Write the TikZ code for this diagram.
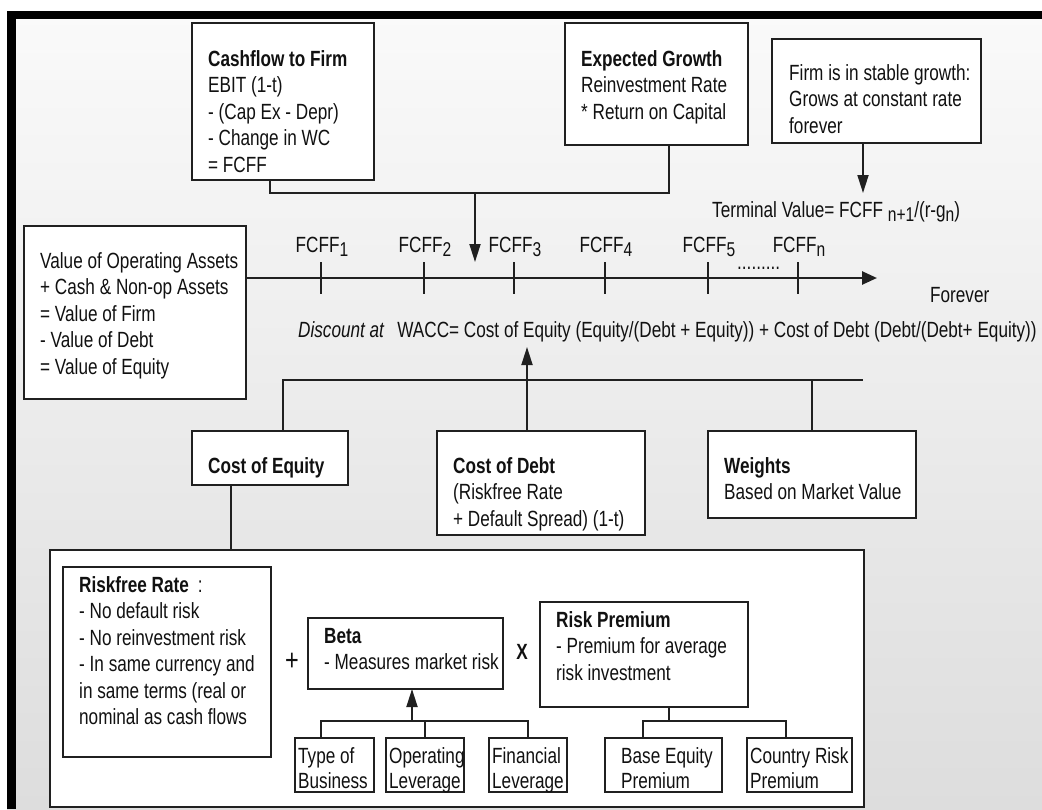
\documentclass[tikz,border=0pt]{standalone}
\usepackage{fontspec}
\setmainfont{Liberation Sans}[FakeStretch=0.78]
\usetikzlibrary{arrows.meta}
\definecolor{ink}{HTML}{111111}
\definecolor{edge}{HTML}{202020}
\definecolor{bgtop}{HTML}{FAFAFA}
\definecolor{bgbot}{HTML}{DDDDDD}
\newcommand\mylines[1]{\begin{tabular}[t]{@{}l@{}}#1\end{tabular}}
\newcommand\mysub[1]{\raisebox{-4pt}{\fontsize{20}{20}\selectfont #1}}
\begin{document}
\begin{tikzpicture}[x=1pt,y=-1pt,
  font=\fontsize{22}{26.5}\selectfont,
  box/.style={draw=edge, line width=1.8pt, fill=white, inner sep=0pt, outer sep=0pt},
  txt/.style={inner sep=0pt, anchor=base west, text=ink},
  smalltxt/.style={txt, font=\fontsize{22}{25}\selectfont},
  lbl/.style={inner sep=0pt, anchor=base, text=ink},
  ln/.style={draw=edge, line width=1.8pt},
  arr/.style={ln, -{Triangle[length=18pt,width=11pt]}},
  tl/.style={draw=edge, line width=2.6pt, -{Triangle[length=15pt,width=13pt]}},
  tickmark/.style={draw=edge, line width=1.8pt}]
\useasboundingbox (0,0) rectangle (1042,809);
% background and frame
\fill[white] (0,0) rectangle (1042,809);
\shade[top color=bgtop, bottom color=bgbot] (7,11) rectangle (1042,809);
\fill[black] (7,11) rectangle (1042,19);
\fill[black] (7,11) rectangle (16,809);

% top boxes
\node[box, minimum width=182pt, minimum height=157pt] (cf) at (283,101.5) {};
\node[txt] (cft) at (208,66) {\mylines{\textbf{Cashflow to Firm}\\EBIT (1-t)\\- (Cap Ex - Depr)\\- Change in WC\\= FCFF}};
\node[box, minimum width=183pt, minimum height=122pt] (eg) at (656.5,84) {};
\node[txt] (egt) at (581,66) {\mylines{\textbf{Expected Growth}\\Reinvestment Rate\\{}* Return on Capital}};
\node[box, minimum width=209pt, minimum height=104pt] (firm) at (876.5,91) {};
\node[txt] (firmt) at (789,80) {\mylines{Firm is in stable growth:\\Grows at constant rate\\forever}};
\node[txt] (tv) at (712,217) {Terminal Value= FCFF \mysub{n+1}/(r-g\mysub{n})};

% connectors at top
\coordinate (cfj) at (270,193);
\coordinate (egj) at (669,193);
\draw[ln] (cf.south -| cfj) -- (cfj) -- (egj) -- (eg.south -| egj);
\coordinate (cfa) at (475,193);
\coordinate (cftip) at (475,262);
\draw[arr] (cfa) -- (cftip);
\coordinate (tvtip) at (863,193);
\draw[arr] (firm.south -| tvtip) -- (tvtip);

% value box and timeline
\node[box, minimum width=222pt, minimum height=173pt] (voa) at (135,312.5) {};
\node[txt] (voat) at (40,268) {\mylines{Value of Operating Assets\\+ Cash \& Non-op Assets\\= Value of Firm\\- Value of Debt\\= Value of Equity}};
\coordinate (tlend) at (877,278);
\draw[tl] (voa.east |- tlend) -- (tlend);
\foreach \x/\n in {321/1, 424/2, 514/3, 605/4, 708/5, 798/n} {
  \coordinate (tk\n) at (\x,278);
  \draw[tickmark] (\x,262) -- (\x,294);
  \node[lbl] (f\n) at (\x+1,252) {FCFF\mysub{\n}};
}
\node[txt] (dots) at (737,269) {.........};
\node[txt] (fv) at (930,302) {Forever};
\node[txt] (disc) at (298,337) {\textit{Discount at}\hspace{8pt} WACC= Cost of Equity (Equity/(Debt + Equity)) + Cost of Debt (Debt/(Debt+ Equity))};

% second row
\node[box, minimum width=156pt, minimum height=54pt] (coe) at (270,458) {};
\node[txt] (coet) at (208,473) {\textbf{Cost of Equity}};
\node[box, minimum width=208pt, minimum height=104pt] (cod) at (541,483) {};
\node[txt] (codt) at (453,473) {\mylines{\textbf{Cost of Debt}\\(Riskfree Rate\\+ Default Spread) (1-t)}};
\node[box, minimum width=208pt, minimum height=87pt] (wts) at (812,474.5) {};
\node[txt] (wtst) at (724,473) {\mylines{\textbf{Weights}\\Based on Market Value}};
\coordinate (busL) at (283,380);
\coordinate (busR) at (863,380);
\draw[ln] (coe.north -| busL) -- (busL) -- (busR);
\draw[ln] (wts.north) -- (wts.north |- busR);
\coordinate (wtip) at (527,347);
\draw[arr] (cod.north -| wtip) -- (wtip);

% big box
\node[box, minimum width=814pt, minimum height=257pt] (big) at (457,678.5) {};
\coordinate (coex) at (231,500);
\draw[ln] (coe.south -| coex) -- (big.north -| coex);

\node[box, minimum width=208pt, minimum height=190pt] (rf) at (167,662) {};
\node[txt] (rft) at (79,592) {\mylines{\textbf{Riskfree Rate}\hspace{9pt}:\\- No default risk\\- No reinvestment risk\\- In same currency and\\in same terms (real or\\nominal as cash flows}};
\node[inner sep=0pt, text=ink, font=\fontsize{30}{30}\selectfont] (plus) at (292,662) {+};
\node[box, minimum width=195pt, minimum height=71pt] (beta) at (405.5,653.5) {};
\node[txt] (betat) at (324,643) {\mylines{\textbf{Beta}\\- Measures market risk}};
\node[inner sep=0pt, text=ink] (times) at (522,652) {\textbf{X}};
\node[box, minimum width=208pt, minimum height=105pt] (rp) at (644,654.5) {};
\node[txt] (rpt) at (556,627) {\mylines{\textbf{Risk Premium}\\- Premium for average\\risk investment}};

% small boxes
\node[box, minimum width=79pt, minimum height=54pt] (tob) at (334.5,765) {};
\node[smalltxt] (tobt) at (298,763) {\mylines{Type of\\Business}};
\node[box, minimum width=78pt, minimum height=54pt] (opl) at (425,765) {};
\node[smalltxt] (oplt) at (389,763) {\mylines{Operating\\Leverage}};
\node[box, minimum width=78pt, minimum height=54pt] (finl) at (528,765) {};
\node[smalltxt] (finlt) at (492,763) {\mylines{Financial\\Leverage}};
\node[box, minimum width=117pt, minimum height=54pt] (bep) at (663.5,765) {};
\node[smalltxt] (bept) at (621,763) {\mylines{Base Equity\\Premium}};
\node[box, minimum width=105pt, minimum height=54pt] (crp) at (799.5,765) {};
\node[smalltxt] (crpt) at (750,763) {\mylines{Country Risk\\Premium}};

% beta connectors
\coordinate (bj) at (412,721);
\coordinate (tobx) at (321,721);
\coordinate (finx) at (528,721);
\draw[ln] (tob.north -| tobx) -- (tobx) -- (finx) -- (finl.north);
\draw[ln] (opl.north) -- (opl.north |- bj);
\draw[arr] (bj) -- (beta.south -| bj);

% risk premium connectors
\coordinate (rpj) at (669,721);
\coordinate (bepx) at (643,721);
\coordinate (crpx) at (786,721);
\draw[ln] (rp.south -| rpj) -- (rpj);
\draw[ln] (bep.north -| bepx) -- (bepx) -- (crpx) -- (crp.north -| crpx);
\end{tikzpicture}
\end{document}
